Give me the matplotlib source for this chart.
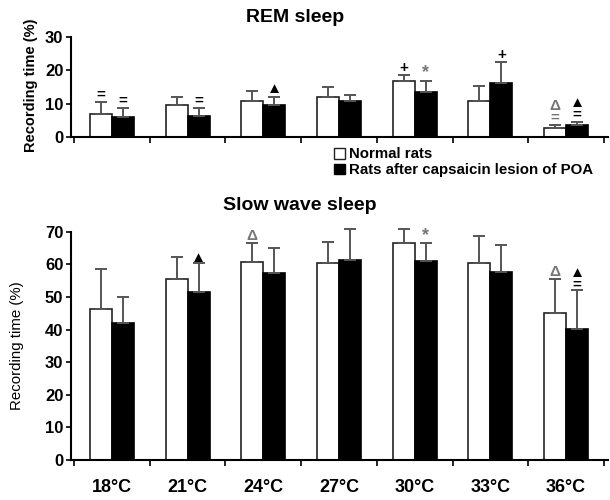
import numpy as np
import matplotlib.pyplot as plt
from matplotlib.patches import Patch

plt.rcParams["font.family"] = ["Liberation Sans", "DejaVu Sans"]

# Data
temps = ["18°C", "21°C", "24°C", "27°C", "30°C", "33°C", "36°C"]

rem_normal = [6.8, 9.5, 10.7, 11.9, 16.7, 10.7, 2.6]
rem_normal_err = [3.8, 2.6, 3.2, 3.0, 1.8, 4.6, 1.0]
rem_lesion = [6.0, 6.4, 9.5, 10.7, 13.6, 16.3, 3.7]
rem_lesion_err = [2.6, 2.3, 2.6, 1.8, 3.1, 6.1, 0.9]
rem_marks_normal = ["=", "", "", "", "+", "", "Δ\n="]
rem_marks_lesion = ["=", "=", "▲", "", "*", "+", "▲\n="]

sws_normal = [46.3, 55.6, 60.6, 60.3, 66.4, 60.3, 45.2]
sws_normal_err = [12.4, 6.5, 6.0, 6.5, 4.3, 8.4, 10.4]
sws_lesion = [42.0, 51.4, 57.2, 61.3, 61.1, 57.5, 40.2]
sws_lesion_err = [7.9, 8.9, 7.8, 9.5, 5.5, 8.5, 12.0]
sws_marks_normal = ["", "", "Δ", "", "", "", "Δ"]
sws_marks_lesion = ["", "▲", "", "", "*", "", "▲\n="]

labels = ["Normal rats", "Rats after capsaicin lesion of POA"]

x = np.arange(len(temps))
w = 0.29
err_kw = dict(ecolor="#555555", elinewidth=1.4, capsize=4.5, capthick=1.4)


def draw(ax, normal, nerr, lesion, lerr, ymax, step):
    ax.bar(x - w / 2, normal, w, color="white", edgecolor="#222222", linewidth=1.2,
           yerr=[np.zeros(len(x)), nerr], error_kw=err_kw, zorder=2)
    ax.bar(x + w / 2, lesion, w, color="black", edgecolor="black", linewidth=1.2,
           yerr=[np.zeros(len(x)), lerr], error_kw=err_kw, zorder=2)
    for art in ax.lines + ax.collections:
        art.set_clip_on(False)
    ax.set_xlim(-0.54, 6.55)
    ax.set_ylim(0, ymax)
    ax.set_yticks(np.arange(0, ymax + 1, step))
    ax.set_xticks(x)
    ax.set_xticks(np.arange(-0.5, 7, 1), minor=True)
    ax.tick_params(axis="x", which="major", length=0)
    ax.tick_params(axis="x", which="minor", direction="out", length=4, width=1.2)
    ax.tick_params(axis="y", direction="out", length=3.5, width=1.2, pad=2,
                   labelsize=12)
    for s in ["top", "right"]:
        ax.spines[s].set_visible(False)
    for s in ["left", "bottom"]:
        ax.spines[s].set_linewidth(1.5)
    for t in ax.get_yticklabels():
        t.set_fontweight("bold")


def marks(ax, xs, tops, texts, off):
    for xi, top, t in zip(xs, tops, texts):
        if not t:
            continue
        c = "#777777" if ("Δ" in t or "*" in t) else "black"
        size = 13 if t == "*" else 11
        ax.text(xi, top + off, t, ha="center", va="bottom", fontsize=size,
                fontweight="bold", color=c, linespacing=0.75, zorder=3,
                clip_on=False)


fig = plt.figure(figsize=(6.1, 5.0), dpi=100)
ax1 = fig.add_axes([0.1164, 0.726, 0.880, 0.200])
ax2 = fig.add_axes([0.1164, 0.080, 0.880, 0.4566])

draw(ax1, rem_normal, rem_normal_err, rem_lesion, rem_lesion_err, 30, 10)
ax1.set_xticklabels([])
marks(ax1, x - w / 2, np.add(rem_normal, rem_normal_err), rem_marks_normal, 0.1)
marks(ax1, x + w / 2, np.add(rem_lesion, rem_lesion_err), rem_marks_lesion, 0.1)

draw(ax2, sws_normal, sws_normal_err, sws_lesion, sws_lesion_err, 70, 10)
ax2.set_xticklabels(temps, fontsize=13, fontweight="bold")
ax2.tick_params(axis="x", which="major", pad=14)
marks(ax2, x - w / 2, np.add(sws_normal, sws_normal_err), sws_marks_normal, 0.0)
marks(ax2, x + w / 2, np.add(sws_lesion, sws_lesion_err), sws_marks_lesion, -0.5)

fig.text(0.484, 0.964, "REM sleep", ha="center", va="center", fontsize=14,
         fontweight="bold")
fig.text(0.492, 0.59, "Slow wave sleep", ha="center", va="center", fontsize=14,
         fontweight="bold")
fig.text(0.051, 0.83, "Recording time (%)", ha="center", va="center", rotation=90,
         fontsize=10.5, fontweight="bold")
fig.text(0.028, 0.308, "Recording time (%)", ha="center", va="center", rotation=90,
         fontsize=10.8)

handles = [Patch(facecolor="white", edgecolor="#222222", linewidth=1.0),
           Patch(facecolor="black", edgecolor="black", linewidth=1.0)]
fig.legend(handles, labels, loc="upper left", bbox_to_anchor=(0.548, 0.705),
           frameon=False, handlelength=0.7, handleheight=0.7, handletextpad=0.3,
           labelspacing=0.1, borderaxespad=0, borderpad=0,
           prop=dict(size=10.8, weight="bold"))

fig.savefig("out.png", dpi=100)
